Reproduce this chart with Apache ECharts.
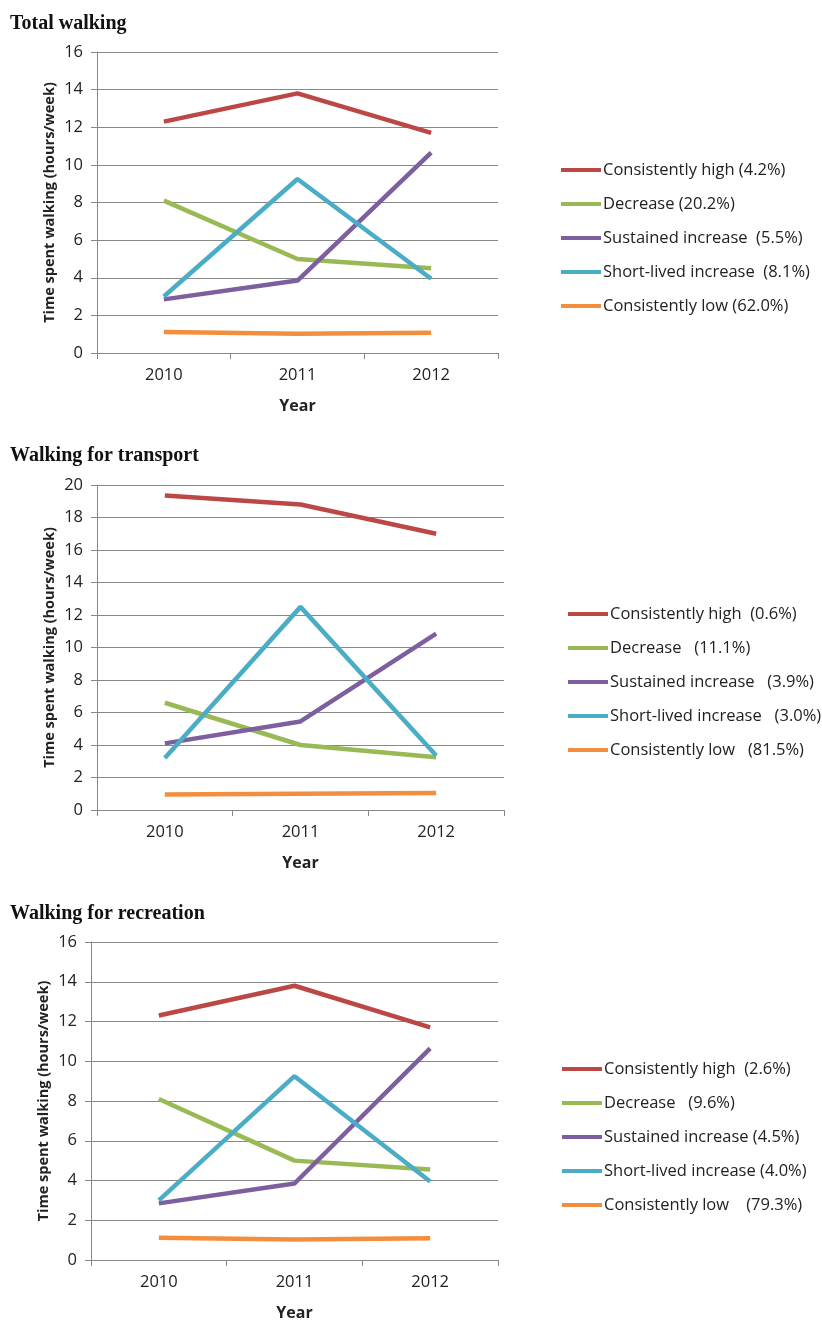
<!DOCTYPE html>
<html>
<head>
<meta charset="utf-8">
<script src="https://cdn.jsdelivr.net/npm/echarts@6/dist/echarts.min.js"></script>
<style>
  html, body { margin: 0; padding: 0; background: #fff; }
  #chart { width: 822px; height: 1322px; }
</style>
</head>
<body>
<div id="chart"></div>
<script>
// categories
const years = ['2010', '2011', '2012'];

// panel titles
const panelTitles = ['Total walking', 'Walking for transport', 'Walking for recreation'];

// legend labels (group + share), per panel
const totalLabels = ['Consistently high (4.2%)', 'Decrease (20.2%)', 'Sustained increase  (5.5%)', 'Short-lived increase  (8.1%)', 'Consistently low (62.0%)'];
const transportLabels = ['Consistently high  (0.6%)', 'Decrease   (11.1%)', 'Sustained increase   (3.9%)', 'Short-lived increase   (3.0%)', 'Consistently low   (81.5%)'];
const recreationLabels = ['Consistently high  (2.6%)', 'Decrease   (9.6%)', 'Sustained increase (4.5%)', 'Short-lived increase (4.0%)', 'Consistently low    (79.3%)'];

// total walking (hours/week)
const totalHigh = [12.3, 13.8, 11.7];
const totalDecrease = [8.1, 5.0, 4.5];
const totalSustained = [2.85, 3.85, 10.65];
const totalShort = [3.0, 9.25, 3.95];
const totalLow = [1.12, 1.02, 1.08];

// walking for transport
const transportHigh = [19.35, 18.8, 17.0];
const transportDecrease = [6.6, 4.0, 3.25];
const transportSustained = [4.1, 5.45, 10.85];
const transportShort = [3.2, 12.5, 3.35];
const transportLow = [0.95, 1.0, 1.05];

// walking for recreation
const recreationHigh = [12.3, 13.8, 11.7];
const recreationDecrease = [8.1, 5.0, 4.55];
const recreationSustained = [2.85, 3.85, 10.65];
const recreationShort = [3.0, 9.25, 3.95];
const recreationLow = [1.12, 1.03, 1.1];

// y-axis max per panel
const yMax = [16, 20, 16];

const colors = ['#BB4845', '#98B954', '#7D5FA0', '#4AACC5', '#F38E3E'];

const panels = [
  { labels: totalLabels, data: [totalHigh, totalDecrease, totalSustained, totalShort, totalLow],
    grid: { left: 97, top: 52, width: 401, height: 301 }, titleTop: 9, legend: { left: 556, top: 155 } },
  { labels: transportLabels, data: [transportHigh, transportDecrease, transportSustained, transportShort, transportLow],
    grid: { left: 97, top: 485, width: 407, height: 325 }, titleTop: 441, legend: { left: 563, top: 599 } },
  { labels: recreationLabels, data: [recreationHigh, recreationDecrease, recreationSustained, recreationShort, recreationLow],
    grid: { left: 91, top: 942, width: 407, height: 321 }, titleTop: 899, legend: { left: 557, top: 1054 } }
];

const labelFont = { fontFamily: 'Open Sans', fontSize: 16.5, color: '#222' };
const gray = '#888';

const option = {
  animation: false,
  backgroundColor: '#fff',
  title: [],
  legend: [],
  grid: [],
  xAxis: [],
  yAxis: [],
  series: []
};

panels.forEach((p, i) => {
  option.title.push({
    text: panelTitles[i],
    left: 5,
    top: p.titleTop,
    textStyle: { fontFamily: 'Liberation Serif', fontWeight: 'bold', fontSize: 20, color: '#111' }
  });
  option.grid.push(Object.assign({ containLabel: false }, p.grid));
  option.xAxis.push({
    type: 'category',
    gridIndex: i,
    data: years,
    boundaryGap: true,
    name: 'Year',
    nameLocation: 'middle',
    nameGap: 45,
    nameTextStyle: { fontFamily: 'Open Sans', fontWeight: 'bold', fontSize: 16, color: '#222' },
    axisLine: { lineStyle: { color: gray, width: 1 } },
    axisTick: { show: true, length: 6, lineStyle: { color: gray } },
    axisLabel: Object.assign({ margin: 14 }, labelFont),
    splitLine: { show: false }
  });
  option.yAxis.push({
    type: 'value',
    gridIndex: i,
    min: 0,
    max: yMax[i],
    interval: 2,
    name: 'Time spent walking (hours/week)',
    nameLocation: 'middle',
    nameGap: 40,
    nameTextStyle: { fontFamily: 'Open Sans', fontWeight: 'bold', fontSize: 14.5, color: '#222' },
    axisLine: { show: true, lineStyle: { color: gray, width: 1 } },
    axisTick: { show: true, length: 6, lineStyle: { color: gray } },
    axisLabel: Object.assign({ margin: 14 }, labelFont),
    splitLine: { show: true, lineStyle: { color: gray, width: 1 } }
  });
  option.legend.push({
    orient: 'vertical',
    left: p.legend.left,
    top: p.legend.top,
    itemWidth: 40,
    itemHeight: 4,
    itemGap: 14,
    icon: 'rect',
    data: p.labels,
    textStyle: { fontFamily: 'Open Sans', fontSize: 16.5, color: '#222', lineHeight: 20, padding: [0, 0, 0, -3] }
  });
  p.labels.forEach((name, k) => {
    option.series.push({
      type: 'line',
      name: name,
      xAxisIndex: i,
      yAxisIndex: i,
      data: p.data[k],
      showSymbol: false,
      symbol: 'none',
      color: colors[k],
      lineStyle: { width: 4.5, color: colors[k] }
    });
  });
});

const chart = echarts.init(document.getElementById('chart'));
chart.setOption(option);
</script>
</body>
</html>
